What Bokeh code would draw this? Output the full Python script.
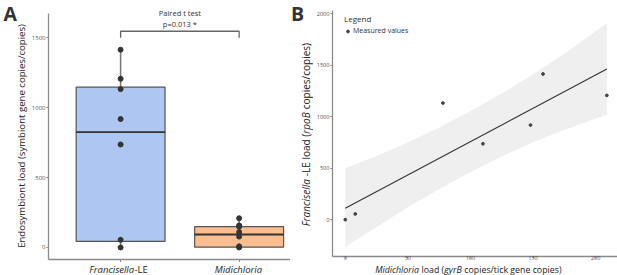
from math import pi
from bokeh.plotting import figure
from bokeh.models import Range1d, FixedTicker, Legend, LegendItem, Label
from bokeh.core.properties import value
from bokeh.layouts import row, column
from bokeh.embed import file_html
from bokeh.resources import INLINE

# ---------------- data ----------------
groups = ["Francisella-LE", "Midichloria"]
group_pos = [0, 1]
midi_load = [0, 8, 78, 110, 148, 158, 209]          # gyrB copies / tick gene copies
fran_load = [0, 55, 1133, 737, 919, 1415, 1207]     # rpoB copies / copies

box_q1 = [43, 2]
box_median = [826, 93]
box_q3 = [1147, 149]
whisker_low = [0, 0]
whisker_high = [1415, 209]
box_fill = ["#aec6f2", "#fbbe90"]

bracket_low = 1500
bracket_high = 1547
test_title = "Paired t test"
test_p = "p=0.013 *"

fit_x = [0, 209]
fit_y = [111, 1464]
band_x = [0, 25, 50, 75, 100, 125, 150, 175, 209]
band_upper = [500, 618, 750, 896, 1053, 1225, 1412, 1613, 1908]
band_lower = [-266, -72, 120, 296, 463, 615, 752, 873, 1019]

a_yticks = [0, 500, 1000, 1500]
b_xticks = [0, 50, 100, 150, 200]
b_yticks = [0, 500, 1000, 1500, 2000]

FONT = "Open Sans"
AXC = "#8a8a8a"
TICKC = "#555555"
TXT = "#222222"

OS = {'a': .556, 'b': .613, 'c': .480, 'd': .613, 'e': .561, 'f': .336, 'g': .548, 'h': .614,
      'i': .258, 'j': .258, 'k': .529, 'l': .258, 'm': .933, 'n': .614, 'o': .603, 'p': .613,
      'q': .613, 'r': .409, 's': .477, 't': .352, 'u': .614, 'v': .500, 'w': .778, 'x': .517,
      'y': .500, 'z': .468, ' ': .26, '(': .297, ')': .297, '-': .322, '/': .371, 'L': .519,
      'E': .556, 'F': .524, 'M': .907, 'B': .648}


def tw(s, size, italic=False):
    return sum(OS.get(c, 0.55) for c in s) * size * (0.96 if italic else 1.0)


class Strip:
    """A plain figure whose frame is the whole canvas, in page-pixel units."""

    def __init__(self, x0, y0, w, h):
        self.y0, self.h = y0, h
        p = figure(width=w, height=h, output_backend="svg", toolbar_location=None,
                   x_range=Range1d(x0, x0 + w), y_range=Range1d(0, h),
                   x_axis_type=None, y_axis_type=None, frame_align=False,
                   min_border_left=0, min_border_right=0, min_border_top=0, min_border_bottom=0)
        p.outline_line_color = None
        p.grid.visible = False
        p.background_fill_color = "white"
        p.border_fill_color = "white"
        self.p = p

    def yc(self, ypage):
        return (self.y0 + self.h) - ypage

    def put(self, x, ypage, text, size, italic=False, bold=False, align='left', angle=0.0, color=TXT):
        style = 'bold' if bold else ('italic' if italic else 'normal')
        self.p.text(x=[x], y=[self.yc(ypage)], text=[text], text_align=align, text_baseline='middle',
                    text_font=value(FONT), text_font_size=f"{size}px", text_font_style=style,
                    text_color=color, angle=angle)

    def composite(self, parts, c_px, fixed_px, size, vertical=False, color=TXT):
        widths = [tw(t, size, it) for t, it in parts]
        total = sum(widths)
        pos = c_px - total / 2 if not vertical else c_px + total / 2
        for (t, it), w in zip(parts, widths):
            txt = t.strip()
            lead = tw(t[:len(t) - len(t.lstrip())], size, it)
            if not vertical:
                self.put(pos + lead, fixed_px, txt, size, italic=it, color=color)
                pos += w
            else:
                self.p.text(x=[fixed_px], y=[self.yc(pos - lead)], text=[txt], text_align='left',
                            text_baseline='middle', text_font=value(FONT), text_font_size=f"{size}px",
                            text_font_style='italic' if it else 'normal', text_color=color, angle=pi / 2)
                pos -= w


def style_axes(p):
    for ax in (p.xaxis[0], p.yaxis[0]):
        ax.axis_line_color = AXC
        ax.axis_line_width = 1.3
        ax.major_tick_line_color = AXC
        ax.major_tick_out = 2
        ax.major_tick_in = 0
        ax.minor_tick_line_color = None
        ax.major_label_text_font = FONT
        ax.major_label_text_font_size = "6px"
        ax.major_label_text_color = TICKC
        ax.major_label_standoff = 1
    p.grid.visible = False
    p.outline_line_color = None
    p.background_fill_color = "white"
    p.border_fill_color = "white"


TOP_H = 262           # height of the row holding both panels; a text strip fills the rest

# ---------------- panel A ----------------
A_LEFT_W = 28
pA = figure(width=290 - A_LEFT_W, height=TOP_H, output_backend="svg", toolbar_location=None,
            x_range=Range1d(-0.6083, 1.4333), y_range=Range1d(-86, 1767), frame_align=False,
            min_border_left=45 - A_LEFT_W, min_border_right=0, min_border_top=0, min_border_bottom=3)
style_axes(pA)
pA.yaxis.bounds = (-86, 1674)
pA.xaxis.ticker = FixedTicker(ticks=group_pos)
pA.xaxis.major_label_overrides = {0: "", 1: ""}
pA.xaxis.major_label_text_font_size = "1px"
pA.xaxis.major_label_standoff = 0
pA.xaxis.major_tick_out = 3
pA.yaxis.ticker = FixedTicker(ticks=a_yticks)

pA.segment(x0=group_pos, y0=box_q3, x1=group_pos, y1=whisker_high, line_color="#777777", line_width=1.5)
pA.segment(x0=group_pos, y0=box_q1, x1=group_pos, y1=whisker_low, line_color="#777777", line_width=1.5)
pA.vbar(x=group_pos, width=0.75, top=box_q3, bottom=box_q1, fill_color=box_fill,
        line_color="#555555", line_width=1.2)
pA.vbar(x=group_pos, width=0.75, top=box_median, bottom=box_median, fill_alpha=0,
        line_color="#333333", line_width=1.8)
pA.scatter([group_pos[0]] * len(fran_load), fran_load, size=5, color="#333333")
pA.scatter([group_pos[1]] * len(midi_load), midi_load, size=5, color="#333333")
pA.line(x=[group_pos[0], group_pos[0], group_pos[1], group_pos[1]],
        y=[bracket_low, bracket_high, bracket_high, bracket_low], line_color="#666666", line_width=1.3)
mid = (group_pos[0] + group_pos[1]) / 2
pA.add_layout(Label(x=mid, y=1674, text=test_title, text_align='center', text_baseline='middle',
                    text_font=FONT, text_font_size="7.5px", text_color="#333333"))
pA.add_layout(Label(x=mid, y=1597, text=test_p, text_align='center', text_baseline='middle',
                    text_font=FONT, text_font_size="7.5px", text_color="#333333"))

a_left = Strip(0, 0, A_LEFT_W, TOP_H)
a_left.put(3, 13.2, "A", 19.5, bold=True, color="#333333")
a_left.put(21.3, 135.5, "Endosymbiont load (symbiont gene copies/copies)", 9.6, align='center', angle=pi / 2)

# ---------------- panel B ----------------
B_LEFT_W = 23
pB = figure(width=617 - 290 - B_LEFT_W, height=TOP_H, output_backend="svg", toolbar_location=None,
            x_range=Range1d(-10.2, 217.5), y_range=Range1d(-358, 2032), frame_align=False,
            min_border_left=16, min_border_right=0, min_border_top=10, min_border_bottom=0)
style_axes(pB)
pB.xaxis.ticker = FixedTicker(ticks=b_xticks)
pB.yaxis.ticker = FixedTicker(ticks=b_yticks)
pB.xaxis.major_label_standoff = -3
pB.xaxis.major_label_text_font_size = "5.6px"
pB.yaxis.major_label_text_font_size = "5.6px"

pB.varea(x=band_x, y1=band_lower, y2=band_upper, fill_color="#efefef")
pB.line(fit_x, fit_y, line_color="#333333", line_width=1.1)
pts = pB.scatter(midi_load, fran_load, size=2.8, color="#444444")

legend = Legend(items=[LegendItem(label="Measured values", renderers=[pts])],
                location=(10, 219), title="Legend",
                title_text_font=FONT, title_text_font_size="8px", title_text_font_style="normal",
                title_text_color="#333333", label_text_font=FONT, label_text_font_size="7px",
                label_text_color="#333333", glyph_width=7, glyph_height=8, label_standoff=2,
                label_height=8, padding=2, spacing=0, margin=0, title_standoff=2,
                background_fill_alpha=0, border_line_alpha=0)
pB.add_layout(legend)

b_left = Strip(290, 0, B_LEFT_W, TOP_H)
b_left.put(290.5, 13.2, "B", 19.5, bold=True, color="#333333")
b_left.composite([("Francisella", True), (" -LE load (", False), ("rpoB", True),
                  (" copies/copies)", False)], 134, 305.5, 10, vertical=True)

# ---------------- bottom text strip (category labels of A, x title of B) ----------------
bottom = Strip(0, TOP_H, 617, 275 - TOP_H)
tick_px = [118, 238]
bottom.composite([("Francisella", True), ("-LE", False)], tick_px[0], 268.5, 9.5)
bottom.composite([("Midichloria", True)], tick_px[1], 268.5, 9.5)
bottom.composite([("Midichloria", True), (" load (", False), ("gyrB", True),
                  (" copies/tick gene copies)", False)], 468, 269, 8.8)

layout = column(row(a_left.p, pA, b_left.p, pB), bottom.p)
open("out.html", "w").write(file_html(layout, INLINE))
